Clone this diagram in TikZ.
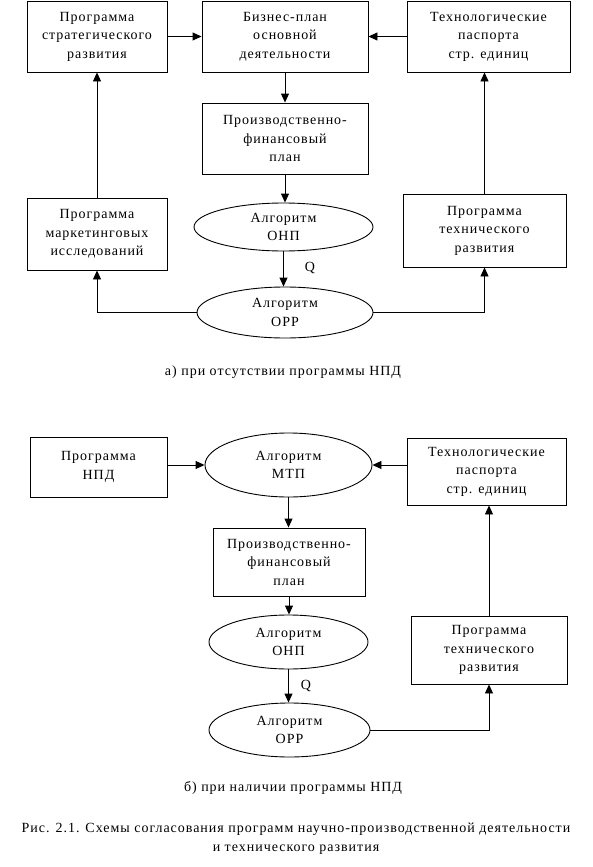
\documentclass[tikz,border=0pt]{standalone}
\usepackage{fontspec}
\setmainfont[LetterSpace=7]{Liberation Serif}
\usetikzlibrary{shapes.geometric,arrows.meta}
\begin{document}
\begin{tikzpicture}[x=1pt,y=-1pt,
  every node/.style={font=\fontsize{14}{18.5}\selectfont},
  box/.style={draw,line width=0.9pt,rectangle,inner sep=0pt,align=center},
  ell/.style={draw,line width=0.9pt,ellipse,inner sep=0pt,align=center},
  arr/.style={line width=0.9pt,-{Triangle[length=9pt,width=8pt]}},
  lbl/.style={inner sep=0pt,align=center}]
\useasboundingbox (0,0) rectangle (593,867);
% ---- part a
\node[box,minimum width=140,minimum height=71] (strat) at (97,36.5) {Программа\\стратегического\\развития};
\node[box,minimum width=166,minimum height=71] (biz) at (285,36.5) {Бизнес-план\\основной\\деятельности};
\node[box,minimum width=163,minimum height=71] (tpa) at (488.5,36.5) {Технологические\\паспорта\\стр. единиц};
\node[box,minimum width=166,minimum height=71] (pfa) at (285,138.5) {Производственно-\\финансовый\\план};
\node[ell,minimum width=179,minimum height=48] (onpa) at (283.5,227) {Алгоритм\\ОНП};
\node[ell,minimum width=176,minimum height=51] (orpa) at (285,312.5) {Алгоритм\\ОРР};
\node[box,minimum width=140,minimum height=72] (mark) at (97,234) {Программа\\маркетинговых\\исследований};
\node[box,minimum width=163,minimum height=73] (tdeva) at (484.5,230.5) {Программа\\технического\\развития};
\node[lbl] (qa) at (310,268) {Q};
\draw[arr] (strat) -- (biz);
\draw[arr] (tpa) -- (biz);
\draw[arr] (biz) -- (pfa);
\draw[arr] (pfa.south) -- (pfa.south |- onpa.north);
\draw[arr] (onpa.south) -- (onpa.south |- orpa.north);
\draw[arr] (mark.north) -- (strat.south);
\draw[arr] (orpa.west) -| (mark.south);
\draw[arr] (orpa.east) -| (tdeva.south);
\draw[arr] (tdeva.north) -- (tdeva.north |- tpa.south);
\node[lbl] (capa) at (283,372) {а) при отсутствии программы НПД};
% ---- part b
\node[box,minimum width=137,minimum height=60] (npd) at (98.5,467) {Программа\\НПД};
\node[ell,minimum width=167,minimum height=64] (mtp) at (288.5,465) {Алгоритм\\МТП};
\node[box,minimum width=159,minimum height=67] (tpb) at (486.5,471.5) {Технологические\\паспорта\\стр. единиц};
\node[box,minimum width=152,minimum height=68] (pfb) at (289,562) {Производственно-\\финансовый\\план};
\node[ell,minimum width=159,minimum height=54] (onpb) at (288.5,642) {Алгоритм\\ОНП};
\node[ell,minimum width=161,minimum height=54] (orpb) at (289.5,730) {Алгоритм\\ОРР};
\node[box,minimum width=156,minimum height=68] (tdevb) at (489,650) {Программа\\технического\\развития};
\node[lbl] (qb) at (306,686) {Q};
\draw[arr] (npd.east |- mtp.west) -- (mtp.west);
\draw[arr] (tpb.west |- mtp.east) -- (mtp.east);
\draw[arr] (mtp.south) -- (mtp.south |- pfb.north);
\draw[arr] (pfb.south) -- (pfb.south |- onpb.north);
\draw[arr] (onpb.south) -- (onpb.south |- orpb.north);
\draw[arr] (orpb.east) -| (tdevb.south);
\draw[arr] (tdevb.north) -- (tdevb.north |- tpb.south);
\node[lbl] (capb) at (293,788) {б) при наличии программы НПД};
\node[lbl] (cap) at (296,838.5) {Рис. 2.1. Схемы согласования программ научно-производственной деятельности\\и технического развития};
\end{tikzpicture}
\end{document}
